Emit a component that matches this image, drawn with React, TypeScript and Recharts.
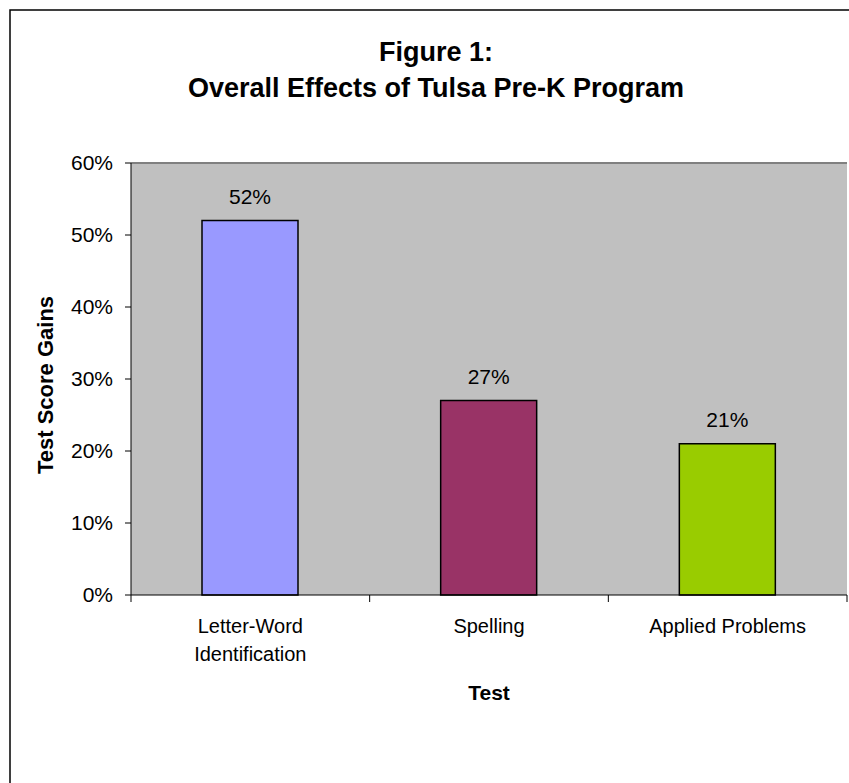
import React from 'react';
import { BarChart, Bar, XAxis, YAxis, CartesianGrid, ReferenceLine, LabelList, Cell } from 'recharts';

const tests = ['Letter-Word Identification', 'Spelling', 'Applied Problems'];
const testLabelLines = [['Letter-Word', 'Identification'], ['Spelling'], ['Applied Problems']];
const gains = [52, 27, 21];
const barColors = ['#9999FF', '#993366', '#99CC00'];
const yTicks = [0, 10, 20, 30, 40, 50, 60];

const data = tests.map((test, i) => ({ test, gain: gains[i] }));

const FONT = 'Arial, "Liberation Sans", sans-serif';

// category label plus tick marks at the category boundaries
const CategoryTick = (props: any) => {
  const { x, y, payload } = props;
  const idx = payload.index;
  const half = payload.offset || 0;
  const axisY = y - 7;
  const lines = testLabelLines[idx] || [payload.value];
  return (
    <g>
      <line x1={x - half} y1={axisY} x2={x - half} y2={axisY + 7} stroke="#000" />
      {idx === tests.length - 1 && (
        <line x1={x + half} y1={axisY} x2={x + half} y2={axisY + 7} stroke="#000" />
      )}
      <text x={x} y={axisY + 38} textAnchor="middle" fontSize={20} fontFamily={FONT} fill="#000">
        {lines.map((ln: string, i: number) => (
          <tspan key={i} x={x} dy={i === 0 ? 0 : 28}>
            {ln}
          </tspan>
        ))}
      </text>
    </g>
  );
};

export default function App() {
  return (
    <div style={{ position: 'absolute', left: 0, top: 0, width: 849, height: 783, background: '#fff', overflow: 'hidden' }}>
      <BarChart
        width={849}
        height={783}
        data={data}
        margin={{ top: 163, right: 2, left: 61, bottom: 128 }}
      >
        <CartesianGrid fill="#C0C0C0" horizontal={false} vertical={false} />
        <XAxis
          dataKey="test"
          height={60}
          tickLine={false}
          tickSize={7}
          tickMargin={0}
          interval={0}
          axisLine={{ stroke: '#000' }}
          tick={<CategoryTick />}
        />
        <YAxis
          width={70}
          domain={[0, 60]}
          ticks={yTicks}
          tickFormatter={(v) => `${v}%`}
          tickSize={6}
          tickMargin={12}
          axisLine={{ stroke: '#000' }}
          tickLine={{ stroke: '#000' }}
          tick={{ fontSize: 21, fill: '#000', fontFamily: FONT }}
        />
        <YAxis
          yAxisId="r"
          orientation="right"
          width={0}
          tick={false}
          axisLine={{ stroke: '#808080', strokeWidth: 2 }}
        />
        <ReferenceLine y={60} stroke="#808080" strokeWidth={2} />
        <Bar dataKey="gain" barSize={96} stroke="#000" strokeWidth={1.5} isAnimationActive={false}>
          {data.map((entry, i) => (
            <Cell key={`cell-${i}`} fill={barColors[i]} />
          ))}
          <LabelList
            dataKey="gain"
            position="top"
            offset={17}
            formatter={(v: any) => `${v}%`}
            style={{ fontSize: 21, fill: '#000', fontFamily: FONT }}
          />
        </Bar>
      </BarChart>
      <svg width={849} height={783} style={{ position: 'absolute', left: 0, top: 0, pointerEvents: 'none' }}>
        <rect x={10} y={10} width={900} height={900} fill="none" stroke="#000" strokeWidth={1.5} />
        <text x={436} y={61} textAnchor="middle" fontSize={27} fontWeight="bold" fontFamily={FONT} fill="#000">
          Figure 1:
        </text>
        <text x={436} y={97} textAnchor="middle" fontSize={27} fontWeight="bold" fontFamily={FONT} fill="#000">
          Overall Effects of Tulsa Pre-K Program
        </text>
        <text
          x={53}
          y={385}
          transform="rotate(-90, 53, 385)"
          textAnchor="middle"
          fontSize={22}
          fontWeight="bold"
          fontFamily={FONT}
          fill="#000"
        >
          Test Score Gains
        </text>
        <text x={489} y={700} textAnchor="middle" fontSize={21} fontWeight="bold" fontFamily={FONT} fill="#000">
          Test
        </text>
      </svg>
    </div>
  );
}
